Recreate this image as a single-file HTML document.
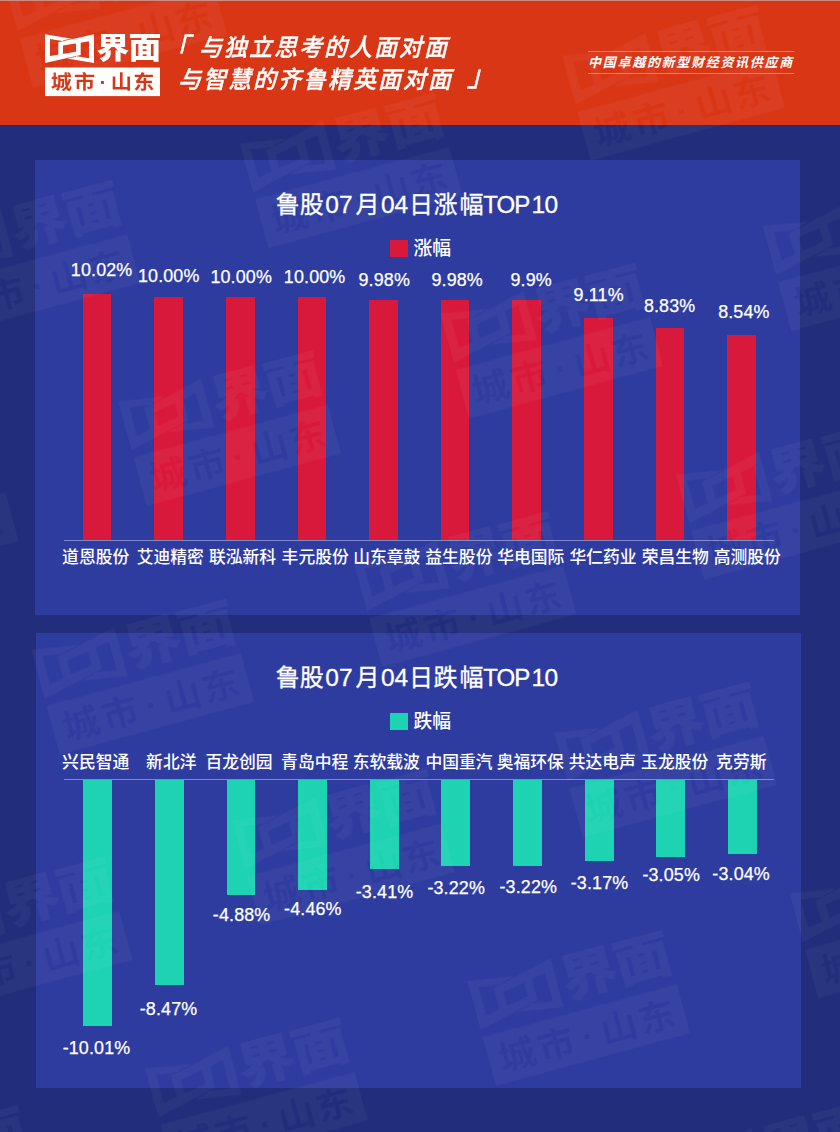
<!DOCTYPE html>
<html lang="zh-CN"><head><meta charset="utf-8"><title>鲁股涨跌幅TOP10</title>
<style>
html,body{margin:0;padding:0}
body{width:840px;height:1132px;position:relative;overflow:hidden;background:#222d7b;font-family:"Liberation Sans", "Noto Sans CJK SC", sans-serif;color:#fff}
.abs,.bar,.val,.cat,.axis,.panel,.lg{position:absolute}
#hdr{position:absolute;left:0;top:0;width:840px;height:125px;background:#d93616}
#topline{position:absolute;left:0;top:0;width:840px;height:1px;background:#d08b80}
.panel{background:#2f3c9f}
.bar.r{background:#d9193c}
.bar.g{background:#1dd3b1}
.val{width:100px;text-align:center;font-size:17.9px;line-height:20px;white-space:nowrap;letter-spacing:.15px;-webkit-text-stroke:.25px #fff}
.cat{font-size:16.8px;line-height:22px;white-space:nowrap;font-weight:500}
.axis{height:1px;background:#7f89ca}
.title{position:absolute;left:0;width:840px;height:30px;font-size:24px;line-height:30px;white-space:nowrap;-webkit-text-stroke:.3px #fff}
.title span{position:absolute;top:0}
.title .n{font-size:24.5px}
.title .t{font-size:24px;letter-spacing:-1px}
.leg{position:absolute;font-size:18.8px;line-height:22px;white-space:nowrap;font-weight:500}
.sq{position:absolute;width:17.5px;height:17px}
#slog{position:absolute;left:0;top:0;font-style:italic;font-weight:500;font-size:24px;line-height:30px;letter-spacing:2.04px;white-space:nowrap;-webkit-text-stroke:.35px #fff}
#slog .bk{font-size:29px;font-weight:400;-webkit-text-stroke:.5px #fff}
#slog div{position:absolute;white-space:nowrap;transform-origin:0 50%;transform:scaleX(.96)}
#tag{position:absolute;left:588px;top:50.8px;width:205.5px;height:23.5px;border-top:1px solid rgba(255,255,255,.4);border-bottom:1px solid rgba(255,255,255,.4);box-sizing:border-box}
#tag span{position:absolute;left:0.1px;top:3.1px;display:block;white-space:nowrap;font-size:13px;line-height:16px;font-weight:700;font-style:italic;letter-spacing:1.7px}
#wm{position:absolute;left:0;top:0;width:0;height:0;transform-origin:0 0;transform:rotate(-15.2deg);opacity:.037;pointer-events:none}
</style></head><body>
<div id="hdr"></div>
<div class="panel" style="left:35px;top:160px;width:765px;height:455px"></div>
<div class="panel" style="left:36px;top:633.2px;width:765px;height:454.6px"></div>

<div class="title" style="top:189.8px"><span style="left:275.8px">鲁股</span><span class="n" style="left:325.3px">07</span><span style="left:355.6px">月</span><span class="n" style="left:380.9px">04</span><span style="left:408.9px">日</span><span style="left:433.5px">涨</span><span style="left:459.4px">幅</span><span class="t" style="left:483.3px">TOP</span><span class="n" style="left:531.4px;letter-spacing:-.4px">10</span></div>
<div class="sq" style="left:390.1px;top:240px;background:#d9193c"></div>
<div class="leg" style="left:413.5px;top:238.3px">涨幅</div>
<div class="bar r" style="left:82.7px;top:294.2px;width:28.8px;height:246.1px"></div>
<div class="bar r" style="left:154.3px;top:297.2px;width:28.8px;height:243.1px"></div>
<div class="bar r" style="left:225.9px;top:297.3px;width:28.8px;height:243.0px"></div>
<div class="bar r" style="left:297.5px;top:297.3px;width:28.8px;height:243.0px"></div>
<div class="bar r" style="left:369.1px;top:300px;width:28.8px;height:240.3px"></div>
<div class="bar r" style="left:440.7px;top:300px;width:28.8px;height:240.3px"></div>
<div class="bar r" style="left:512.3px;top:300px;width:28.8px;height:240.3px"></div>
<div class="bar r" style="left:583.9px;top:318.3px;width:28.8px;height:222.0px"></div>
<div class="bar r" style="left:655.5px;top:327.8px;width:28.8px;height:212.5px"></div>
<div class="bar r" style="left:727.1px;top:335.2px;width:28.8px;height:205.1px"></div>
<div class="val" style="left:51.65px;top:259.60px">10.02%</div>
<div class="val" style="left:118.75px;top:266.30px">10.00%</div>
<div class="val" style="left:191.20px;top:266.50px">10.00%</div>
<div class="val" style="left:264.65px;top:266.50px">10.00%</div>
<div class="val" style="left:334.25px;top:269.50px">9.98%</div>
<div class="val" style="left:407.20px;top:269.50px">9.98%</div>
<div class="val" style="left:481.20px;top:269.50px">9.9%</div>
<div class="val" style="left:548.70px;top:284.80px">9.11%</div>
<div class="val" style="left:619.65px;top:295.80px">8.83%</div>
<div class="val" style="left:693.90px;top:302.10px">8.54%</div>
<div class="cat" style="left:62.1px;top:547.2px">道恩股份</div>
<div class="cat" style="left:136.7px;top:547.2px">艾迪精密</div>
<div class="cat" style="left:209.0px;top:547.2px">联泓新科</div>
<div class="cat" style="left:281.6px;top:547.2px">丰元股份</div>
<div class="cat" style="left:353.2px;top:547.2px">山东章鼓</div>
<div class="cat" style="left:425.3px;top:547.2px">益生股份</div>
<div class="cat" style="left:497.2px;top:547.2px">华电国际</div>
<div class="cat" style="left:569.4px;top:547.2px">华仁药业</div>
<div class="cat" style="left:641.7px;top:547.2px">荣昌生物</div>
<div class="cat" style="left:713.7px;top:547.2px">高测股份</div>
<div class="axis" style="left:64px;top:540px;width:710px"></div>

<div class="title" style="top:662.8px"><span style="left:275.8px">鲁股</span><span class="n" style="left:325.3px">07</span><span style="left:355.6px">月</span><span class="n" style="left:380.9px">04</span><span style="left:408.9px">日</span><span style="left:433.5px">跌</span><span style="left:459.4px">幅</span><span class="t" style="left:483.3px">TOP</span><span class="n" style="left:531.4px;letter-spacing:-.4px">10</span></div>
<div class="sq" style="left:390.2px;top:713px;background:#1dd3b1"></div>
<div class="leg" style="left:413.5px;top:711.3px">跌幅</div>
<div class="bar g" style="left:83.2px;top:779.3px;width:28.8px;height:246.7px"></div>
<div class="bar g" style="left:154.9px;top:779.3px;width:28.8px;height:206.1px"></div>
<div class="bar g" style="left:226.5px;top:779.3px;width:28.8px;height:115.7px"></div>
<div class="bar g" style="left:298.2px;top:779.3px;width:28.8px;height:110.5px"></div>
<div class="bar g" style="left:369.8px;top:779.3px;width:28.8px;height:89.5px"></div>
<div class="bar g" style="left:441.4px;top:779.3px;width:28.8px;height:86.5px"></div>
<div class="bar g" style="left:513.1px;top:779.3px;width:28.8px;height:86.5px"></div>
<div class="bar g" style="left:584.8px;top:779.3px;width:28.8px;height:81.7px"></div>
<div class="bar g" style="left:656.4px;top:779.3px;width:28.8px;height:77.3px"></div>
<div class="bar g" style="left:728.1px;top:779.3px;width:28.8px;height:75.2px"></div>
<div class="val" style="left:46.50px;top:1037.60px">-10.01%</div>
<div class="val" style="left:118.55px;top:998.80px">-8.47%</div>
<div class="val" style="left:191.65px;top:905.00px">-4.88%</div>
<div class="val" style="left:262.85px;top:899.20px">-4.46%</div>
<div class="val" style="left:334.55px;top:881.90px">-3.41%</div>
<div class="val" style="left:406.20px;top:878.40px">-3.22%</div>
<div class="val" style="left:478.25px;top:876.60px">-3.22%</div>
<div class="val" style="left:549.50px;top:873.20px">-3.17%</div>
<div class="val" style="left:621.20px;top:865.30px">-3.05%</div>
<div class="val" style="left:691.15px;top:864.00px">-3.04%</div>
<div class="cat" style="left:62.1px;top:751.5px">兴民智通</div>
<div class="cat" style="left:146.1px;top:751.5px">新北洋</div>
<div class="cat" style="left:205.4px;top:751.5px">百龙创园</div>
<div class="cat" style="left:281.1px;top:751.5px">青岛中程</div>
<div class="cat" style="left:352.7px;top:751.5px">东软载波</div>
<div class="cat" style="left:425.4px;top:751.5px">中国重汽</div>
<div class="cat" style="left:496.7px;top:751.5px">奥福环保</div>
<div class="cat" style="left:568.7px;top:751.5px">共达电声</div>
<div class="cat" style="left:641.1px;top:751.5px">玉龙股份</div>
<div class="cat" style="left:716.1px;top:751.5px">克劳斯</div>
<div class="axis" style="left:64px;top:778.6px;width:710px"></div>

<div id="logo" class="abs" style="left:45px;top:34px;width:115px;height:63px"><svg class="lg" style="left:0;top:0" width="115" height="62.5" viewBox="0 0 115 62.5">
<mask id="m1" maskUnits="userSpaceOnUse" x="-1" y="-3" width="118" height="68"><rect x="-1" y="-3" width="118" height="68" fill="#fff"/><text transform="scale(1.08,1)" x="15.05 36.57 53.70 70.74 91.53" y="55.3" text-anchor="middle" font-size="19.6" font-weight="700" fill="#000" font-family='"Liberation Sans", "Noto Sans CJK SC", sans-serif'>城市·山东</text><path d="M18 6.75 L28.3 4.45 M31 22.45 L20.7 24.75" stroke="#000" stroke-width="0.75" fill="none"/></mask>
<g fill="#fff" mask="url(#m1)">
<path fill-rule="evenodd" d="M0 0.3 L35.7 6.2 L35.7 21 L0 29 Z M5 5 L31 9.3 L31 17.7 L5 22 Z"/>
<path fill-rule="evenodd" d="M49 28.9 L13.3 23 L13.3 8.2 L49 0.2 Z M44 24.2 L18 19.9 L18 11.5 L44 7.2 Z"/>
<text transform="translate(51.5,24.4) scale(1.12,1)" x="0" y="0" font-size="29.3" font-weight="900" letter-spacing="-0.8" font-family='"Liberation Sans", "Noto Sans CJK SC", sans-serif'>界面</text>
<rect x="0" y="33.5" width="115" height="28.6"/>
</g></svg></div>
<div id="slog"><div class="bk" style="left:160.5px;top:34px">「</div><div style="left:199.3px;top:32.5px">与独立思考的人面对面</div><div style="left:177.7px;top:64.5px">与智慧的齐鲁精英面对面</div><div class="bk" style="left:466.5px;top:61px">」</div></div>
<div id="tag"><span>中国卓越的新型财经资讯供应商</span></div>

<div id="wm">
<svg class="lg" style="left:8.6px;top:-15.8px" width="201.25" height="109.38" viewBox="0 0 115 62.5">
<mask id="m2" maskUnits="userSpaceOnUse" x="-1" y="-3" width="118" height="68"><rect x="-1" y="-3" width="118" height="68" fill="#fff"/><text transform="scale(1.08,1)" x="15.05 36.57 53.70 70.74 91.53" y="55.3" text-anchor="middle" font-size="19.6" font-weight="700" fill="#000" font-family='"Liberation Sans", "Noto Sans CJK SC", sans-serif'>城市·山东</text><path d="M18 6.75 L28.3 4.45 M31 22.45 L20.7 24.75" stroke="#000" stroke-width="0.75" fill="none"/></mask>
<g fill="#fff" mask="url(#m2)">
<path fill-rule="evenodd" d="M0 0.3 L35.7 6.2 L35.7 21 L0 29 Z M5 5 L31 9.3 L31 17.7 L5 22 Z"/>
<path fill-rule="evenodd" d="M49 28.9 L13.3 23 L13.3 8.2 L49 0.2 Z M44 24.2 L18 19.9 L18 11.5 L44 7.2 Z"/>
<text transform="translate(51.5,24.4) scale(1.12,1)" x="0" y="0" font-size="29.3" font-weight="900" letter-spacing="-0.8" font-family='"Liberation Sans", "Noto Sans CJK SC", sans-serif'>界面</text>
<rect x="0" y="33.5" width="115" height="28.6"/>
</g></svg>
<svg class="lg" style="left:342.6px;top:-15.8px" width="201.25" height="109.38" viewBox="0 0 115 62.5">
<mask id="m3" maskUnits="userSpaceOnUse" x="-1" y="-3" width="118" height="68"><rect x="-1" y="-3" width="118" height="68" fill="#fff"/><text transform="scale(1.08,1)" x="15.05 36.57 53.70 70.74 91.53" y="55.3" text-anchor="middle" font-size="19.6" font-weight="700" fill="#000" font-family='"Liberation Sans", "Noto Sans CJK SC", sans-serif'>城市·山东</text><path d="M18 6.75 L28.3 4.45 M31 22.45 L20.7 24.75" stroke="#000" stroke-width="0.75" fill="none"/></mask>
<g fill="#fff" mask="url(#m3)">
<path fill-rule="evenodd" d="M0 0.3 L35.7 6.2 L35.7 21 L0 29 Z M5 5 L31 9.3 L31 17.7 L5 22 Z"/>
<path fill-rule="evenodd" d="M49 28.9 L13.3 23 L13.3 8.2 L49 0.2 Z M44 24.2 L18 19.9 L18 11.5 L44 7.2 Z"/>
<text transform="translate(51.5,24.4) scale(1.12,1)" x="0" y="0" font-size="29.3" font-weight="900" letter-spacing="-0.8" font-family='"Liberation Sans", "Noto Sans CJK SC", sans-serif'>界面</text>
<rect x="0" y="33.5" width="115" height="28.6"/>
</g></svg>
<svg class="lg" style="left:-140.0px;top:201.1px" width="201.25" height="109.38" viewBox="0 0 115 62.5">
<mask id="m4" maskUnits="userSpaceOnUse" x="-1" y="-3" width="118" height="68"><rect x="-1" y="-3" width="118" height="68" fill="#fff"/><text transform="scale(1.08,1)" x="15.05 36.57 53.70 70.74 91.53" y="55.3" text-anchor="middle" font-size="19.6" font-weight="700" fill="#000" font-family='"Liberation Sans", "Noto Sans CJK SC", sans-serif'>城市·山东</text><path d="M18 6.75 L28.3 4.45 M31 22.45 L20.7 24.75" stroke="#000" stroke-width="0.75" fill="none"/></mask>
<g fill="#fff" mask="url(#m4)">
<path fill-rule="evenodd" d="M0 0.3 L35.7 6.2 L35.7 21 L0 29 Z M5 5 L31 9.3 L31 17.7 L5 22 Z"/>
<path fill-rule="evenodd" d="M49 28.9 L13.3 23 L13.3 8.2 L49 0.2 Z M44 24.2 L18 19.9 L18 11.5 L44 7.2 Z"/>
<text transform="translate(51.5,24.4) scale(1.12,1)" x="0" y="0" font-size="29.3" font-weight="900" letter-spacing="-0.8" font-family='"Liberation Sans", "Noto Sans CJK SC", sans-serif'>界面</text>
<rect x="0" y="33.5" width="115" height="28.6"/>
</g></svg>
<svg class="lg" style="left:194.0px;top:201.1px" width="201.25" height="109.38" viewBox="0 0 115 62.5">
<mask id="m5" maskUnits="userSpaceOnUse" x="-1" y="-3" width="118" height="68"><rect x="-1" y="-3" width="118" height="68" fill="#fff"/><text transform="scale(1.08,1)" x="15.05 36.57 53.70 70.74 91.53" y="55.3" text-anchor="middle" font-size="19.6" font-weight="700" fill="#000" font-family='"Liberation Sans", "Noto Sans CJK SC", sans-serif'>城市·山东</text><path d="M18 6.75 L28.3 4.45 M31 22.45 L20.7 24.75" stroke="#000" stroke-width="0.75" fill="none"/></mask>
<g fill="#fff" mask="url(#m5)">
<path fill-rule="evenodd" d="M0 0.3 L35.7 6.2 L35.7 21 L0 29 Z M5 5 L31 9.3 L31 17.7 L5 22 Z"/>
<path fill-rule="evenodd" d="M49 28.9 L13.3 23 L13.3 8.2 L49 0.2 Z M44 24.2 L18 19.9 L18 11.5 L44 7.2 Z"/>
<text transform="translate(51.5,24.4) scale(1.12,1)" x="0" y="0" font-size="29.3" font-weight="900" letter-spacing="-0.8" font-family='"Liberation Sans", "Noto Sans CJK SC", sans-serif'>界面</text>
<rect x="0" y="33.5" width="115" height="28.6"/>
</g></svg>
<svg class="lg" style="left:528.0px;top:201.1px" width="201.25" height="109.38" viewBox="0 0 115 62.5">
<mask id="m6" maskUnits="userSpaceOnUse" x="-1" y="-3" width="118" height="68"><rect x="-1" y="-3" width="118" height="68" fill="#fff"/><text transform="scale(1.08,1)" x="15.05 36.57 53.70 70.74 91.53" y="55.3" text-anchor="middle" font-size="19.6" font-weight="700" fill="#000" font-family='"Liberation Sans", "Noto Sans CJK SC", sans-serif'>城市·山东</text><path d="M18 6.75 L28.3 4.45 M31 22.45 L20.7 24.75" stroke="#000" stroke-width="0.75" fill="none"/></mask>
<g fill="#fff" mask="url(#m6)">
<path fill-rule="evenodd" d="M0 0.3 L35.7 6.2 L35.7 21 L0 29 Z M5 5 L31 9.3 L31 17.7 L5 22 Z"/>
<path fill-rule="evenodd" d="M49 28.9 L13.3 23 L13.3 8.2 L49 0.2 Z M44 24.2 L18 19.9 L18 11.5 L44 7.2 Z"/>
<text transform="translate(51.5,24.4) scale(1.12,1)" x="0" y="0" font-size="29.3" font-weight="900" letter-spacing="-0.8" font-family='"Liberation Sans", "Noto Sans CJK SC", sans-serif'>界面</text>
<rect x="0" y="33.5" width="115" height="28.6"/>
</g></svg>
<svg class="lg" style="left:-325.4px;top:418.0px" width="201.25" height="109.38" viewBox="0 0 115 62.5">
<mask id="m7" maskUnits="userSpaceOnUse" x="-1" y="-3" width="118" height="68"><rect x="-1" y="-3" width="118" height="68" fill="#fff"/><text transform="scale(1.08,1)" x="15.05 36.57 53.70 70.74 91.53" y="55.3" text-anchor="middle" font-size="19.6" font-weight="700" fill="#000" font-family='"Liberation Sans", "Noto Sans CJK SC", sans-serif'>城市·山东</text><path d="M18 6.75 L28.3 4.45 M31 22.45 L20.7 24.75" stroke="#000" stroke-width="0.75" fill="none"/></mask>
<g fill="#fff" mask="url(#m7)">
<path fill-rule="evenodd" d="M0 0.3 L35.7 6.2 L35.7 21 L0 29 Z M5 5 L31 9.3 L31 17.7 L5 22 Z"/>
<path fill-rule="evenodd" d="M49 28.9 L13.3 23 L13.3 8.2 L49 0.2 Z M44 24.2 L18 19.9 L18 11.5 L44 7.2 Z"/>
<text transform="translate(51.5,24.4) scale(1.12,1)" x="0" y="0" font-size="29.3" font-weight="900" letter-spacing="-0.8" font-family='"Liberation Sans", "Noto Sans CJK SC", sans-serif'>界面</text>
<rect x="0" y="33.5" width="115" height="28.6"/>
</g></svg>
<svg class="lg" style="left:8.6px;top:418.0px" width="201.25" height="109.38" viewBox="0 0 115 62.5">
<mask id="m8" maskUnits="userSpaceOnUse" x="-1" y="-3" width="118" height="68"><rect x="-1" y="-3" width="118" height="68" fill="#fff"/><text transform="scale(1.08,1)" x="15.05 36.57 53.70 70.74 91.53" y="55.3" text-anchor="middle" font-size="19.6" font-weight="700" fill="#000" font-family='"Liberation Sans", "Noto Sans CJK SC", sans-serif'>城市·山东</text><path d="M18 6.75 L28.3 4.45 M31 22.45 L20.7 24.75" stroke="#000" stroke-width="0.75" fill="none"/></mask>
<g fill="#fff" mask="url(#m8)">
<path fill-rule="evenodd" d="M0 0.3 L35.7 6.2 L35.7 21 L0 29 Z M5 5 L31 9.3 L31 17.7 L5 22 Z"/>
<path fill-rule="evenodd" d="M49 28.9 L13.3 23 L13.3 8.2 L49 0.2 Z M44 24.2 L18 19.9 L18 11.5 L44 7.2 Z"/>
<text transform="translate(51.5,24.4) scale(1.12,1)" x="0" y="0" font-size="29.3" font-weight="900" letter-spacing="-0.8" font-family='"Liberation Sans", "Noto Sans CJK SC", sans-serif'>界面</text>
<rect x="0" y="33.5" width="115" height="28.6"/>
</g></svg>
<svg class="lg" style="left:342.6px;top:418.0px" width="201.25" height="109.38" viewBox="0 0 115 62.5">
<mask id="m9" maskUnits="userSpaceOnUse" x="-1" y="-3" width="118" height="68"><rect x="-1" y="-3" width="118" height="68" fill="#fff"/><text transform="scale(1.08,1)" x="15.05 36.57 53.70 70.74 91.53" y="55.3" text-anchor="middle" font-size="19.6" font-weight="700" fill="#000" font-family='"Liberation Sans", "Noto Sans CJK SC", sans-serif'>城市·山东</text><path d="M18 6.75 L28.3 4.45 M31 22.45 L20.7 24.75" stroke="#000" stroke-width="0.75" fill="none"/></mask>
<g fill="#fff" mask="url(#m9)">
<path fill-rule="evenodd" d="M0 0.3 L35.7 6.2 L35.7 21 L0 29 Z M5 5 L31 9.3 L31 17.7 L5 22 Z"/>
<path fill-rule="evenodd" d="M49 28.9 L13.3 23 L13.3 8.2 L49 0.2 Z M44 24.2 L18 19.9 L18 11.5 L44 7.2 Z"/>
<text transform="translate(51.5,24.4) scale(1.12,1)" x="0" y="0" font-size="29.3" font-weight="900" letter-spacing="-0.8" font-family='"Liberation Sans", "Noto Sans CJK SC", sans-serif'>界面</text>
<rect x="0" y="33.5" width="115" height="28.6"/>
</g></svg>
<svg class="lg" style="left:676.6px;top:418.0px" width="201.25" height="109.38" viewBox="0 0 115 62.5">
<mask id="m10" maskUnits="userSpaceOnUse" x="-1" y="-3" width="118" height="68"><rect x="-1" y="-3" width="118" height="68" fill="#fff"/><text transform="scale(1.08,1)" x="15.05 36.57 53.70 70.74 91.53" y="55.3" text-anchor="middle" font-size="19.6" font-weight="700" fill="#000" font-family='"Liberation Sans", "Noto Sans CJK SC", sans-serif'>城市·山东</text><path d="M18 6.75 L28.3 4.45 M31 22.45 L20.7 24.75" stroke="#000" stroke-width="0.75" fill="none"/></mask>
<g fill="#fff" mask="url(#m10)">
<path fill-rule="evenodd" d="M0 0.3 L35.7 6.2 L35.7 21 L0 29 Z M5 5 L31 9.3 L31 17.7 L5 22 Z"/>
<path fill-rule="evenodd" d="M49 28.9 L13.3 23 L13.3 8.2 L49 0.2 Z M44 24.2 L18 19.9 L18 11.5 L44 7.2 Z"/>
<text transform="translate(51.5,24.4) scale(1.12,1)" x="0" y="0" font-size="29.3" font-weight="900" letter-spacing="-0.8" font-family='"Liberation Sans", "Noto Sans CJK SC", sans-serif'>界面</text>
<rect x="0" y="33.5" width="115" height="28.6"/>
</g></svg>
<svg class="lg" style="left:-140.0px;top:634.9px" width="201.25" height="109.38" viewBox="0 0 115 62.5">
<mask id="m11" maskUnits="userSpaceOnUse" x="-1" y="-3" width="118" height="68"><rect x="-1" y="-3" width="118" height="68" fill="#fff"/><text transform="scale(1.08,1)" x="15.05 36.57 53.70 70.74 91.53" y="55.3" text-anchor="middle" font-size="19.6" font-weight="700" fill="#000" font-family='"Liberation Sans", "Noto Sans CJK SC", sans-serif'>城市·山东</text><path d="M18 6.75 L28.3 4.45 M31 22.45 L20.7 24.75" stroke="#000" stroke-width="0.75" fill="none"/></mask>
<g fill="#fff" mask="url(#m11)">
<path fill-rule="evenodd" d="M0 0.3 L35.7 6.2 L35.7 21 L0 29 Z M5 5 L31 9.3 L31 17.7 L5 22 Z"/>
<path fill-rule="evenodd" d="M49 28.9 L13.3 23 L13.3 8.2 L49 0.2 Z M44 24.2 L18 19.9 L18 11.5 L44 7.2 Z"/>
<text transform="translate(51.5,24.4) scale(1.12,1)" x="0" y="0" font-size="29.3" font-weight="900" letter-spacing="-0.8" font-family='"Liberation Sans", "Noto Sans CJK SC", sans-serif'>界面</text>
<rect x="0" y="33.5" width="115" height="28.6"/>
</g></svg>
<svg class="lg" style="left:194.0px;top:634.9px" width="201.25" height="109.38" viewBox="0 0 115 62.5">
<mask id="m12" maskUnits="userSpaceOnUse" x="-1" y="-3" width="118" height="68"><rect x="-1" y="-3" width="118" height="68" fill="#fff"/><text transform="scale(1.08,1)" x="15.05 36.57 53.70 70.74 91.53" y="55.3" text-anchor="middle" font-size="19.6" font-weight="700" fill="#000" font-family='"Liberation Sans", "Noto Sans CJK SC", sans-serif'>城市·山东</text><path d="M18 6.75 L28.3 4.45 M31 22.45 L20.7 24.75" stroke="#000" stroke-width="0.75" fill="none"/></mask>
<g fill="#fff" mask="url(#m12)">
<path fill-rule="evenodd" d="M0 0.3 L35.7 6.2 L35.7 21 L0 29 Z M5 5 L31 9.3 L31 17.7 L5 22 Z"/>
<path fill-rule="evenodd" d="M49 28.9 L13.3 23 L13.3 8.2 L49 0.2 Z M44 24.2 L18 19.9 L18 11.5 L44 7.2 Z"/>
<text transform="translate(51.5,24.4) scale(1.12,1)" x="0" y="0" font-size="29.3" font-weight="900" letter-spacing="-0.8" font-family='"Liberation Sans", "Noto Sans CJK SC", sans-serif'>界面</text>
<rect x="0" y="33.5" width="115" height="28.6"/>
</g></svg>
<svg class="lg" style="left:528.0px;top:634.9px" width="201.25" height="109.38" viewBox="0 0 115 62.5">
<mask id="m13" maskUnits="userSpaceOnUse" x="-1" y="-3" width="118" height="68"><rect x="-1" y="-3" width="118" height="68" fill="#fff"/><text transform="scale(1.08,1)" x="15.05 36.57 53.70 70.74 91.53" y="55.3" text-anchor="middle" font-size="19.6" font-weight="700" fill="#000" font-family='"Liberation Sans", "Noto Sans CJK SC", sans-serif'>城市·山东</text><path d="M18 6.75 L28.3 4.45 M31 22.45 L20.7 24.75" stroke="#000" stroke-width="0.75" fill="none"/></mask>
<g fill="#fff" mask="url(#m13)">
<path fill-rule="evenodd" d="M0 0.3 L35.7 6.2 L35.7 21 L0 29 Z M5 5 L31 9.3 L31 17.7 L5 22 Z"/>
<path fill-rule="evenodd" d="M49 28.9 L13.3 23 L13.3 8.2 L49 0.2 Z M44 24.2 L18 19.9 L18 11.5 L44 7.2 Z"/>
<text transform="translate(51.5,24.4) scale(1.12,1)" x="0" y="0" font-size="29.3" font-weight="900" letter-spacing="-0.8" font-family='"Liberation Sans", "Noto Sans CJK SC", sans-serif'>界面</text>
<rect x="0" y="33.5" width="115" height="28.6"/>
</g></svg>
<svg class="lg" style="left:-325.4px;top:851.8px" width="201.25" height="109.38" viewBox="0 0 115 62.5">
<mask id="m14" maskUnits="userSpaceOnUse" x="-1" y="-3" width="118" height="68"><rect x="-1" y="-3" width="118" height="68" fill="#fff"/><text transform="scale(1.08,1)" x="15.05 36.57 53.70 70.74 91.53" y="55.3" text-anchor="middle" font-size="19.6" font-weight="700" fill="#000" font-family='"Liberation Sans", "Noto Sans CJK SC", sans-serif'>城市·山东</text><path d="M18 6.75 L28.3 4.45 M31 22.45 L20.7 24.75" stroke="#000" stroke-width="0.75" fill="none"/></mask>
<g fill="#fff" mask="url(#m14)">
<path fill-rule="evenodd" d="M0 0.3 L35.7 6.2 L35.7 21 L0 29 Z M5 5 L31 9.3 L31 17.7 L5 22 Z"/>
<path fill-rule="evenodd" d="M49 28.9 L13.3 23 L13.3 8.2 L49 0.2 Z M44 24.2 L18 19.9 L18 11.5 L44 7.2 Z"/>
<text transform="translate(51.5,24.4) scale(1.12,1)" x="0" y="0" font-size="29.3" font-weight="900" letter-spacing="-0.8" font-family='"Liberation Sans", "Noto Sans CJK SC", sans-serif'>界面</text>
<rect x="0" y="33.5" width="115" height="28.6"/>
</g></svg>
<svg class="lg" style="left:8.6px;top:851.8px" width="201.25" height="109.38" viewBox="0 0 115 62.5">
<mask id="m15" maskUnits="userSpaceOnUse" x="-1" y="-3" width="118" height="68"><rect x="-1" y="-3" width="118" height="68" fill="#fff"/><text transform="scale(1.08,1)" x="15.05 36.57 53.70 70.74 91.53" y="55.3" text-anchor="middle" font-size="19.6" font-weight="700" fill="#000" font-family='"Liberation Sans", "Noto Sans CJK SC", sans-serif'>城市·山东</text><path d="M18 6.75 L28.3 4.45 M31 22.45 L20.7 24.75" stroke="#000" stroke-width="0.75" fill="none"/></mask>
<g fill="#fff" mask="url(#m15)">
<path fill-rule="evenodd" d="M0 0.3 L35.7 6.2 L35.7 21 L0 29 Z M5 5 L31 9.3 L31 17.7 L5 22 Z"/>
<path fill-rule="evenodd" d="M49 28.9 L13.3 23 L13.3 8.2 L49 0.2 Z M44 24.2 L18 19.9 L18 11.5 L44 7.2 Z"/>
<text transform="translate(51.5,24.4) scale(1.12,1)" x="0" y="0" font-size="29.3" font-weight="900" letter-spacing="-0.8" font-family='"Liberation Sans", "Noto Sans CJK SC", sans-serif'>界面</text>
<rect x="0" y="33.5" width="115" height="28.6"/>
</g></svg>
<svg class="lg" style="left:342.6px;top:851.8px" width="201.25" height="109.38" viewBox="0 0 115 62.5">
<mask id="m16" maskUnits="userSpaceOnUse" x="-1" y="-3" width="118" height="68"><rect x="-1" y="-3" width="118" height="68" fill="#fff"/><text transform="scale(1.08,1)" x="15.05 36.57 53.70 70.74 91.53" y="55.3" text-anchor="middle" font-size="19.6" font-weight="700" fill="#000" font-family='"Liberation Sans", "Noto Sans CJK SC", sans-serif'>城市·山东</text><path d="M18 6.75 L28.3 4.45 M31 22.45 L20.7 24.75" stroke="#000" stroke-width="0.75" fill="none"/></mask>
<g fill="#fff" mask="url(#m16)">
<path fill-rule="evenodd" d="M0 0.3 L35.7 6.2 L35.7 21 L0 29 Z M5 5 L31 9.3 L31 17.7 L5 22 Z"/>
<path fill-rule="evenodd" d="M49 28.9 L13.3 23 L13.3 8.2 L49 0.2 Z M44 24.2 L18 19.9 L18 11.5 L44 7.2 Z"/>
<text transform="translate(51.5,24.4) scale(1.12,1)" x="0" y="0" font-size="29.3" font-weight="900" letter-spacing="-0.8" font-family='"Liberation Sans", "Noto Sans CJK SC", sans-serif'>界面</text>
<rect x="0" y="33.5" width="115" height="28.6"/>
</g></svg>
<svg class="lg" style="left:-474.0px;top:1068.7px" width="201.25" height="109.38" viewBox="0 0 115 62.5">
<mask id="m17" maskUnits="userSpaceOnUse" x="-1" y="-3" width="118" height="68"><rect x="-1" y="-3" width="118" height="68" fill="#fff"/><text transform="scale(1.08,1)" x="15.05 36.57 53.70 70.74 91.53" y="55.3" text-anchor="middle" font-size="19.6" font-weight="700" fill="#000" font-family='"Liberation Sans", "Noto Sans CJK SC", sans-serif'>城市·山东</text><path d="M18 6.75 L28.3 4.45 M31 22.45 L20.7 24.75" stroke="#000" stroke-width="0.75" fill="none"/></mask>
<g fill="#fff" mask="url(#m17)">
<path fill-rule="evenodd" d="M0 0.3 L35.7 6.2 L35.7 21 L0 29 Z M5 5 L31 9.3 L31 17.7 L5 22 Z"/>
<path fill-rule="evenodd" d="M49 28.9 L13.3 23 L13.3 8.2 L49 0.2 Z M44 24.2 L18 19.9 L18 11.5 L44 7.2 Z"/>
<text transform="translate(51.5,24.4) scale(1.12,1)" x="0" y="0" font-size="29.3" font-weight="900" letter-spacing="-0.8" font-family='"Liberation Sans", "Noto Sans CJK SC", sans-serif'>界面</text>
<rect x="0" y="33.5" width="115" height="28.6"/>
</g></svg>
<svg class="lg" style="left:-140.0px;top:1068.7px" width="201.25" height="109.38" viewBox="0 0 115 62.5">
<mask id="m18" maskUnits="userSpaceOnUse" x="-1" y="-3" width="118" height="68"><rect x="-1" y="-3" width="118" height="68" fill="#fff"/><text transform="scale(1.08,1)" x="15.05 36.57 53.70 70.74 91.53" y="55.3" text-anchor="middle" font-size="19.6" font-weight="700" fill="#000" font-family='"Liberation Sans", "Noto Sans CJK SC", sans-serif'>城市·山东</text><path d="M18 6.75 L28.3 4.45 M31 22.45 L20.7 24.75" stroke="#000" stroke-width="0.75" fill="none"/></mask>
<g fill="#fff" mask="url(#m18)">
<path fill-rule="evenodd" d="M0 0.3 L35.7 6.2 L35.7 21 L0 29 Z M5 5 L31 9.3 L31 17.7 L5 22 Z"/>
<path fill-rule="evenodd" d="M49 28.9 L13.3 23 L13.3 8.2 L49 0.2 Z M44 24.2 L18 19.9 L18 11.5 L44 7.2 Z"/>
<text transform="translate(51.5,24.4) scale(1.12,1)" x="0" y="0" font-size="29.3" font-weight="900" letter-spacing="-0.8" font-family='"Liberation Sans", "Noto Sans CJK SC", sans-serif'>界面</text>
<rect x="0" y="33.5" width="115" height="28.6"/>
</g></svg>
<svg class="lg" style="left:194.0px;top:1068.7px" width="201.25" height="109.38" viewBox="0 0 115 62.5">
<mask id="m19" maskUnits="userSpaceOnUse" x="-1" y="-3" width="118" height="68"><rect x="-1" y="-3" width="118" height="68" fill="#fff"/><text transform="scale(1.08,1)" x="15.05 36.57 53.70 70.74 91.53" y="55.3" text-anchor="middle" font-size="19.6" font-weight="700" fill="#000" font-family='"Liberation Sans", "Noto Sans CJK SC", sans-serif'>城市·山东</text><path d="M18 6.75 L28.3 4.45 M31 22.45 L20.7 24.75" stroke="#000" stroke-width="0.75" fill="none"/></mask>
<g fill="#fff" mask="url(#m19)">
<path fill-rule="evenodd" d="M0 0.3 L35.7 6.2 L35.7 21 L0 29 Z M5 5 L31 9.3 L31 17.7 L5 22 Z"/>
<path fill-rule="evenodd" d="M49 28.9 L13.3 23 L13.3 8.2 L49 0.2 Z M44 24.2 L18 19.9 L18 11.5 L44 7.2 Z"/>
<text transform="translate(51.5,24.4) scale(1.12,1)" x="0" y="0" font-size="29.3" font-weight="900" letter-spacing="-0.8" font-family='"Liberation Sans", "Noto Sans CJK SC", sans-serif'>界面</text>
<rect x="0" y="33.5" width="115" height="28.6"/>
</g></svg>
<svg class="lg" style="left:528.0px;top:1068.7px" width="201.25" height="109.38" viewBox="0 0 115 62.5">
<mask id="m20" maskUnits="userSpaceOnUse" x="-1" y="-3" width="118" height="68"><rect x="-1" y="-3" width="118" height="68" fill="#fff"/><text transform="scale(1.08,1)" x="15.05 36.57 53.70 70.74 91.53" y="55.3" text-anchor="middle" font-size="19.6" font-weight="700" fill="#000" font-family='"Liberation Sans", "Noto Sans CJK SC", sans-serif'>城市·山东</text><path d="M18 6.75 L28.3 4.45 M31 22.45 L20.7 24.75" stroke="#000" stroke-width="0.75" fill="none"/></mask>
<g fill="#fff" mask="url(#m20)">
<path fill-rule="evenodd" d="M0 0.3 L35.7 6.2 L35.7 21 L0 29 Z M5 5 L31 9.3 L31 17.7 L5 22 Z"/>
<path fill-rule="evenodd" d="M49 28.9 L13.3 23 L13.3 8.2 L49 0.2 Z M44 24.2 L18 19.9 L18 11.5 L44 7.2 Z"/>
<text transform="translate(51.5,24.4) scale(1.12,1)" x="0" y="0" font-size="29.3" font-weight="900" letter-spacing="-0.8" font-family='"Liberation Sans", "Noto Sans CJK SC", sans-serif'>界面</text>
<rect x="0" y="33.5" width="115" height="28.6"/>
</g></svg>
<svg class="lg" style="left:342.6px;top:1285.6px" width="201.25" height="109.38" viewBox="0 0 115 62.5">
<mask id="m21" maskUnits="userSpaceOnUse" x="-1" y="-3" width="118" height="68"><rect x="-1" y="-3" width="118" height="68" fill="#fff"/><text transform="scale(1.08,1)" x="15.05 36.57 53.70 70.74 91.53" y="55.3" text-anchor="middle" font-size="19.6" font-weight="700" fill="#000" font-family='"Liberation Sans", "Noto Sans CJK SC", sans-serif'>城市·山东</text><path d="M18 6.75 L28.3 4.45 M31 22.45 L20.7 24.75" stroke="#000" stroke-width="0.75" fill="none"/></mask>
<g fill="#fff" mask="url(#m21)">
<path fill-rule="evenodd" d="M0 0.3 L35.7 6.2 L35.7 21 L0 29 Z M5 5 L31 9.3 L31 17.7 L5 22 Z"/>
<path fill-rule="evenodd" d="M49 28.9 L13.3 23 L13.3 8.2 L49 0.2 Z M44 24.2 L18 19.9 L18 11.5 L44 7.2 Z"/>
<text transform="translate(51.5,24.4) scale(1.12,1)" x="0" y="0" font-size="29.3" font-weight="900" letter-spacing="-0.8" font-family='"Liberation Sans", "Noto Sans CJK SC", sans-serif'>界面</text>
<rect x="0" y="33.5" width="115" height="28.6"/>
</g></svg>
</div>
<div id="topline"></div>
</body></html>
